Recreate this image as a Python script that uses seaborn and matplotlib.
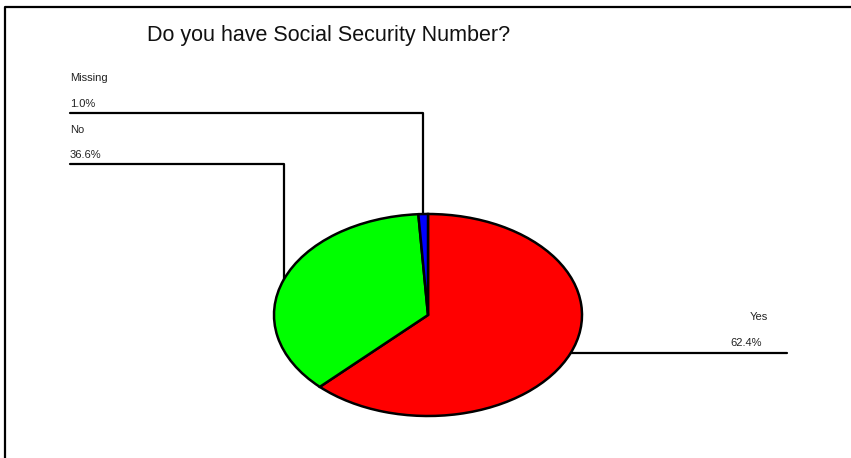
import matplotlib
matplotlib.use("Agg")
import numpy as np
import seaborn as sns
from matplotlib import pyplot as plt

title = "Do you have Social Security Number?"
labels = ["Yes", "No", "Missing"]
percents = [62.4, 36.6, 1.0]
colors = ["#ff0000", "#00ff00", "#0000ff"]

sns.set_theme(style="white")
plt.rcParams["font.family"] = ["Liberation Sans", "DejaVu Sans"]

W, H = 851, 458
fig = plt.figure(figsize=(W / 100, H / 100), dpi=100)

# overlay in pixel coords, origin top-left
ov = fig.add_axes([0, 0, 1, 1])
ov.set_xlim(0, W)
ov.set_ylim(H, 0)
ov.axis("off")

# the pie is squashed into an ellipse
ax = fig.add_axes([274 / W, 1 - 416 / H, 308 / W, 202 / H])
wedges, _ = ax.pie(percents, colors=colors, startangle=90, counterclock=False,
                   wedgeprops=dict(edgecolor="black", linewidth=1.8))
ax.set_aspect("auto")
ax.set_xlim(-1, 1)
ax.set_ylim(-1, 1)

# label layout: (elbow y or None, line end x, name xy, pct xy)
layout = {
    "Missing": (113, 70, (70, 78), (70, 104)),
    "No": (164, 70, (70, 130), (70, 155)),
    "Yes": (None, 787, (750, 317), (730, 343)),
}

for w, lab, p in zip(wedges, labels, percents):
    mid = np.deg2rad((w.theta1 + w.theta2) / 2)
    px, py = ax.transData.transform((np.cos(mid), np.sin(mid)))
    py = H - py
    elbow_y, end_x, name_xy, pct_xy = layout[lab]
    if elbow_y is None:
        ov.plot([px, end_x], [py, py], color="black", lw=1.6)
    else:
        ov.plot([px, px, end_x], [py, elbow_y, elbow_y], color="black", lw=1.6)
    ov.text(*name_xy, lab, fontsize=8, ha="left", va="center", color="#222222")
    ov.text(*pct_xy, f"{p:.1f}%", fontsize=8, ha="left", va="center", color="#222222")

# partial frame (left and top only)
ov.plot([4.5, 4.5, W], [H, 6.5, 6.5], color="black", lw=1.6)

ov.text(147, 35, title, fontsize=15.5, ha="left", va="center", color="#111111")

fig.savefig("out.png", dpi=100)
